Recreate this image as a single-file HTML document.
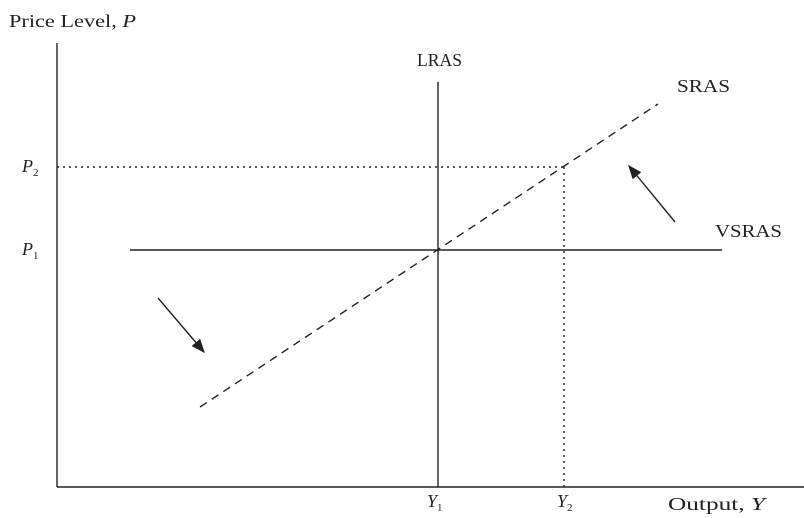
<!DOCTYPE html>
<html><head><meta charset="utf-8"><style>
body{margin:0;background:#fff}
svg{display:block;font-family:"Liberation Serif",serif;fill:#222}
</style></head><body>
<svg width="804" height="518" viewBox="0 0 804 518">
<defs><marker id="ah" markerWidth="10" markerHeight="8" refX="9" refY="4" orient="auto"><path d="M0,0 L10,4 L0,8 z" fill="#222"/></marker></defs>
<g id="g" stroke="#222" fill="none"></g>
<text x="9" y="27" font-size="18" textLength="127" lengthAdjust="spacingAndGlyphs">Price Level, <tspan font-style="italic">P</tspan></text>
<text x="668" y="510" font-size="18" textLength="97" lengthAdjust="spacingAndGlyphs">Output, <tspan font-style="italic">Y</tspan></text>
<text x="417" y="66" font-size="18" textLength="45" lengthAdjust="spacingAndGlyphs">LRAS</text>
<text x="677" y="92" font-size="18" textLength="53" lengthAdjust="spacingAndGlyphs">SRAS</text>
<text x="715" y="237" font-size="18" textLength="67" lengthAdjust="spacingAndGlyphs">VSRAS</text>
<text x="22" y="172" font-size="18" font-style="italic">P<tspan font-size="11" dy="4" font-style="normal">2</tspan></text>
<text x="22" y="255" font-size="18" font-style="italic">P<tspan font-size="11" dy="4" font-style="normal">1</tspan></text>
<text x="427" y="507" font-size="18" font-style="italic">Y<tspan font-size="11" dy="4" font-style="normal">1</tspan></text>
<text x="557" y="507" font-size="18" font-style="italic">Y<tspan font-size="11" dy="4" font-style="normal">2</tspan></text>
</svg>
<script>
const xLevels=[438,564];
const pLevels=[250,167];
const g=document.getElementById('g');
function ln(x1,y1,x2,y2,name,dash,arrow){
 const l=document.createElementNS('http://www.w3.org/2000/svg','line');
 l.setAttribute('x1',x1);l.setAttribute('y1',y1);l.setAttribute('x2',x2);l.setAttribute('y2',y2);
 l.setAttribute('stroke-width','1.4');
 if(dash)l.setAttribute('stroke-dasharray',dash);
 if(arrow)l.setAttribute('marker-end','url(#ah)');
 
 
 g.appendChild(l);
}
ln(57,43,57,487,'y-axis');
ln(57,487,804,487,'x-axis');
ln(xLevels[0],82,xLevels[0],487,'lras-line');
ln(130,pLevels[0],722,pLevels[0],'vsras-line');
ln(200,407,658,104,'sras-line','8 6');
ln(57,pLevels[1],xLevels[1],pLevels[1],'p2-guide','2 4');
ln(xLevels[1],pLevels[1],xLevels[1],487,'y2-guide','2 4');
ln(158,298,204,352,'arrow-down',null,true);
ln(675,222,629,166,'arrow-up',null,true);
</script>
</body></html>
